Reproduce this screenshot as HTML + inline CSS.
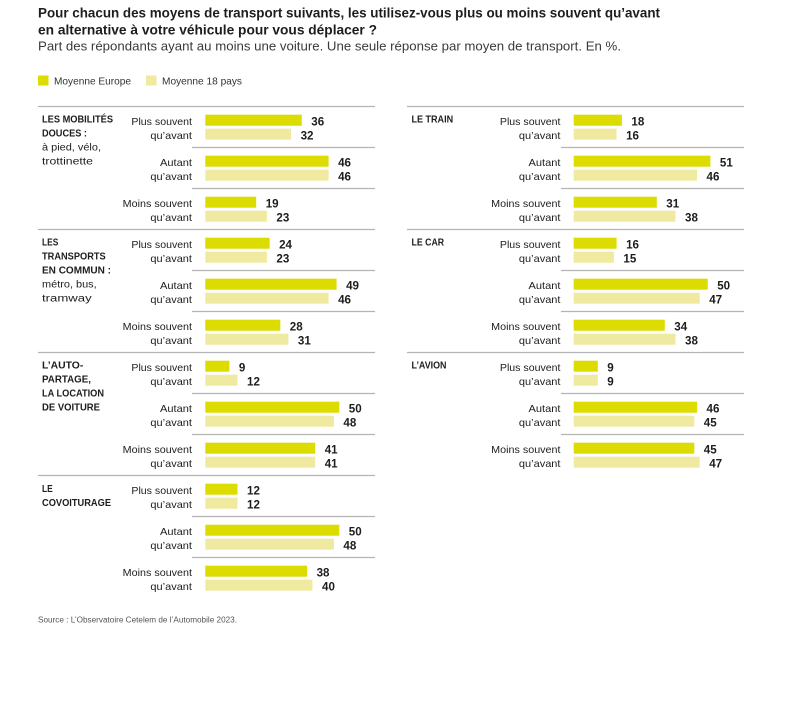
<!DOCTYPE html>
<html>
<head>
<meta charset="utf-8">
<style>
  html,body{margin:0;padding:0;background:#ffffff;}
  svg{display:block;}
  text{font-family:"Liberation Sans",sans-serif;fill:#1d1d1b;}
  .t{font-weight:bold;font-size:13.5px;}
  .st{font-size:12.5px;fill:#3a3a3a;}
  .lg{font-size:10.5px;fill:#333;}
  .gb{font-weight:bold;font-size:9.8px;}
  .gr{font-size:10px;}
  .rl{font-size:10.5px;text-anchor:end;fill:#1d1d1b;}
  .v{font-weight:bold;font-size:11.6px;}
  .src{font-size:8px;fill:#555;}
  .e{fill:#dcdc00;}
  .m{fill:#efeaa0;}
  .ln{stroke:#b3b3b3;stroke-width:1.2;}
</style>
</head>
<body>
<svg width="789" height="706" viewBox="0 0 789 706" xmlns="http://www.w3.org/2000/svg">
  <text class="t" x="38" y="17.5" textLength="622" lengthAdjust="spacingAndGlyphs">Pour chacun des moyens de transport suivants, les utilisez-vous plus ou moins souvent qu’avant</text>
  <text class="t" x="38" y="34.5" textLength="339" lengthAdjust="spacingAndGlyphs">en alternative à votre véhicule pour vous déplacer ?</text>
  <text class="st" x="38" y="50.5" textLength="583" lengthAdjust="spacingAndGlyphs">Part des répondants ayant au moins une voiture. Une seule réponse par moyen de transport. En %.</text>

  <rect class="e" x="38" y="75.5" width="10.5" height="10"/>
  <text class="lg" x="54" y="84.5" textLength="77" lengthAdjust="spacingAndGlyphs">Moyenne Europe</text>
  <rect class="m" x="146" y="75.5" width="10.5" height="10"/>
  <text class="lg" x="162" y="84.5" textLength="80" lengthAdjust="spacingAndGlyphs">Moyenne 18 pays</text>

  <g class="ln">
    <line x1="38" x2="375" y1="106.5" y2="106.5"/>
    <line x1="38" x2="375" y1="229.5" y2="229.5"/>
    <line x1="38" x2="375" y1="352.5" y2="352.5"/>
    <line x1="38" x2="375" y1="475.5" y2="475.5"/>
    <line x1="192" x2="375" y1="147.5" y2="147.5"/>
    <line x1="192" x2="375" y1="188.5" y2="188.5"/>
    <line x1="192" x2="375" y1="270.5" y2="270.5"/>
    <line x1="192" x2="375" y1="311.5" y2="311.5"/>
    <line x1="192" x2="375" y1="393.5" y2="393.5"/>
    <line x1="192" x2="375" y1="434.5" y2="434.5"/>
    <line x1="192" x2="375" y1="516.5" y2="516.5"/>
    <line x1="192" x2="375" y1="557.5" y2="557.5"/>
    <line x1="407" x2="744" y1="106.5" y2="106.5"/>
    <line x1="407" x2="744" y1="229.5" y2="229.5"/>
    <line x1="407" x2="744" y1="352.5" y2="352.5"/>
    <line x1="561" x2="744" y1="147.5" y2="147.5"/>
    <line x1="561" x2="744" y1="188.5" y2="188.5"/>
    <line x1="561" x2="744" y1="270.5" y2="270.5"/>
    <line x1="561" x2="744" y1="311.5" y2="311.5"/>
    <line x1="561" x2="744" y1="393.5" y2="393.5"/>
    <line x1="561" x2="744" y1="434.5" y2="434.5"/>
  </g>

  <text class="gb" x="42" y="122.5" textLength="71" lengthAdjust="spacingAndGlyphs">LES MOBILITÉS</text>
  <text class="gb" x="42" y="136.5" textLength="45" lengthAdjust="spacingAndGlyphs">DOUCES :</text>
  <text class="gr" x="42" y="150.5" textLength="59" lengthAdjust="spacingAndGlyphs">à pied, vélo,</text>
  <text class="gr" x="42" y="164.5" textLength="51" lengthAdjust="spacingAndGlyphs">trottinette</text>

  <text class="gb" x="42" y="245.5" textLength="16.3" lengthAdjust="spacingAndGlyphs">LES</text>
  <text class="gb" x="42" y="259.5" textLength="63.7" lengthAdjust="spacingAndGlyphs">TRANSPORTS</text>
  <text class="gb" x="42" y="273.5" textLength="69" lengthAdjust="spacingAndGlyphs">EN COMMUN :</text>
  <text class="gr" x="42" y="287.5" textLength="54.7" lengthAdjust="spacingAndGlyphs">métro, bus,</text>
  <text class="gr" x="42" y="301.5" textLength="49.7" lengthAdjust="spacingAndGlyphs">tramway</text>

  <text class="gb" x="42" y="368.5" textLength="41.3" lengthAdjust="spacingAndGlyphs">L’AUTO-</text>
  <text class="gb" x="42" y="382.5" textLength="49" lengthAdjust="spacingAndGlyphs">PARTAGE,</text>
  <text class="gb" x="42" y="396.5" textLength="62" lengthAdjust="spacingAndGlyphs">LA LOCATION</text>
  <text class="gb" x="42" y="410.5" textLength="58" lengthAdjust="spacingAndGlyphs">DE VOITURE</text>

  <text class="gb" x="42" y="492" textLength="10.7" lengthAdjust="spacingAndGlyphs">LE</text>
  <text class="gb" x="42" y="506" textLength="69" lengthAdjust="spacingAndGlyphs">COVOITURAGE</text>

  <text class="gb" x="411.5" y="122.5" textLength="41.6" lengthAdjust="spacingAndGlyphs">LE TRAIN</text>
  <text class="gb" x="411.5" y="245.5" textLength="32.6" lengthAdjust="spacingAndGlyphs">LE CAR</text>
  <text class="gb" x="411.5" y="368.5" textLength="35" lengthAdjust="spacingAndGlyphs">L’AVION</text>

  <g>
    <text class="rl" x="192" y="125" textLength="60.6" lengthAdjust="spacingAndGlyphs">Plus souvent</text>
    <text class="rl" x="192" y="139" textLength="41.6" lengthAdjust="spacingAndGlyphs">qu’avant</text>
    <text class="rl" x="192" y="166" textLength="32" lengthAdjust="spacingAndGlyphs">Autant</text>
    <text class="rl" x="192" y="180" textLength="41.6" lengthAdjust="spacingAndGlyphs">qu’avant</text>
    <text class="rl" x="192" y="207" textLength="69.3" lengthAdjust="spacingAndGlyphs">Moins souvent</text>
    <text class="rl" x="192" y="221" textLength="41.6" lengthAdjust="spacingAndGlyphs">qu’avant</text>

    <text class="rl" x="192" y="248" textLength="60.6" lengthAdjust="spacingAndGlyphs">Plus souvent</text>
    <text class="rl" x="192" y="262" textLength="41.6" lengthAdjust="spacingAndGlyphs">qu’avant</text>
    <text class="rl" x="192" y="289" textLength="32" lengthAdjust="spacingAndGlyphs">Autant</text>
    <text class="rl" x="192" y="303" textLength="41.6" lengthAdjust="spacingAndGlyphs">qu’avant</text>
    <text class="rl" x="192" y="330" textLength="69.3" lengthAdjust="spacingAndGlyphs">Moins souvent</text>
    <text class="rl" x="192" y="344" textLength="41.6" lengthAdjust="spacingAndGlyphs">qu’avant</text>

    <text class="rl" x="192" y="371" textLength="60.6" lengthAdjust="spacingAndGlyphs">Plus souvent</text>
    <text class="rl" x="192" y="385" textLength="41.6" lengthAdjust="spacingAndGlyphs">qu’avant</text>
    <text class="rl" x="192" y="412" textLength="32" lengthAdjust="spacingAndGlyphs">Autant</text>
    <text class="rl" x="192" y="426" textLength="41.6" lengthAdjust="spacingAndGlyphs">qu’avant</text>
    <text class="rl" x="192" y="453" textLength="69.3" lengthAdjust="spacingAndGlyphs">Moins souvent</text>
    <text class="rl" x="192" y="467" textLength="41.6" lengthAdjust="spacingAndGlyphs">qu’avant</text>

    <text class="rl" x="192" y="494" textLength="60.6" lengthAdjust="spacingAndGlyphs">Plus souvent</text>
    <text class="rl" x="192" y="508" textLength="41.6" lengthAdjust="spacingAndGlyphs">qu’avant</text>
    <text class="rl" x="192" y="535" textLength="32" lengthAdjust="spacingAndGlyphs">Autant</text>
    <text class="rl" x="192" y="549" textLength="41.6" lengthAdjust="spacingAndGlyphs">qu’avant</text>
    <text class="rl" x="192" y="576" textLength="69.3" lengthAdjust="spacingAndGlyphs">Moins souvent</text>
    <text class="rl" x="192" y="590" textLength="41.6" lengthAdjust="spacingAndGlyphs">qu’avant</text>
  </g>

  <g>
    <text class="rl" x="560.5" y="125" textLength="60.6" lengthAdjust="spacingAndGlyphs">Plus souvent</text>
    <text class="rl" x="560.5" y="139" textLength="41.6" lengthAdjust="spacingAndGlyphs">qu’avant</text>
    <text class="rl" x="560.5" y="166" textLength="32" lengthAdjust="spacingAndGlyphs">Autant</text>
    <text class="rl" x="560.5" y="180" textLength="41.6" lengthAdjust="spacingAndGlyphs">qu’avant</text>
    <text class="rl" x="560.5" y="207" textLength="69.3" lengthAdjust="spacingAndGlyphs">Moins souvent</text>
    <text class="rl" x="560.5" y="221" textLength="41.6" lengthAdjust="spacingAndGlyphs">qu’avant</text>

    <text class="rl" x="560.5" y="248" textLength="60.6" lengthAdjust="spacingAndGlyphs">Plus souvent</text>
    <text class="rl" x="560.5" y="262" textLength="41.6" lengthAdjust="spacingAndGlyphs">qu’avant</text>
    <text class="rl" x="560.5" y="289" textLength="32" lengthAdjust="spacingAndGlyphs">Autant</text>
    <text class="rl" x="560.5" y="303" textLength="41.6" lengthAdjust="spacingAndGlyphs">qu’avant</text>
    <text class="rl" x="560.5" y="330" textLength="69.3" lengthAdjust="spacingAndGlyphs">Moins souvent</text>
    <text class="rl" x="560.5" y="344" textLength="41.6" lengthAdjust="spacingAndGlyphs">qu’avant</text>

    <text class="rl" x="560.5" y="371" textLength="60.6" lengthAdjust="spacingAndGlyphs">Plus souvent</text>
    <text class="rl" x="560.5" y="385" textLength="41.6" lengthAdjust="spacingAndGlyphs">qu’avant</text>
    <text class="rl" x="560.5" y="412" textLength="32" lengthAdjust="spacingAndGlyphs">Autant</text>
    <text class="rl" x="560.5" y="426" textLength="41.6" lengthAdjust="spacingAndGlyphs">qu’avant</text>
    <text class="rl" x="560.5" y="453" textLength="69.3" lengthAdjust="spacingAndGlyphs">Moins souvent</text>
    <text class="rl" x="560.5" y="467" textLength="41.6" lengthAdjust="spacingAndGlyphs">qu’avant</text>
  </g>

  <rect class="e" x="205.3" y="114.7" width="96.5" height="11"/>
  <rect class="m" x="205.3" y="128.7" width="85.8" height="11"/>
  <rect class="e" x="205.3" y="155.7" width="123.3" height="11"/>
  <rect class="m" x="205.3" y="169.7" width="123.3" height="11"/>
  <rect class="e" x="205.3" y="196.7" width="50.9" height="11"/>
  <rect class="m" x="205.3" y="210.7" width="61.6" height="11"/>

  <rect class="e" x="205.3" y="237.7" width="64.3" height="11"/>
  <rect class="m" x="205.3" y="251.7" width="61.6" height="11"/>
  <rect class="e" x="205.3" y="278.7" width="131.3" height="11"/>
  <rect class="m" x="205.3" y="292.7" width="123.3" height="11"/>
  <rect class="e" x="205.3" y="319.7" width="75.0" height="11"/>
  <rect class="m" x="205.3" y="333.7" width="83.1" height="11"/>

  <rect class="e" x="205.3" y="360.7" width="24.1" height="11"/>
  <rect class="m" x="205.3" y="374.7" width="32.2" height="11"/>
  <rect class="e" x="205.3" y="401.7" width="134" height="11"/>
  <rect class="m" x="205.3" y="415.7" width="128.6" height="11"/>
  <rect class="e" x="205.3" y="442.7" width="109.9" height="11"/>
  <rect class="m" x="205.3" y="456.7" width="109.9" height="11"/>

  <rect class="e" x="205.3" y="483.7" width="32.2" height="11"/>
  <rect class="m" x="205.3" y="497.7" width="32.2" height="11"/>
  <rect class="e" x="205.3" y="524.7" width="134" height="11"/>
  <rect class="m" x="205.3" y="538.7" width="128.6" height="11"/>
  <rect class="e" x="205.3" y="565.7" width="101.8" height="11"/>
  <rect class="m" x="205.3" y="579.7" width="107.2" height="11"/>

  <rect class="e" x="573.7" y="114.7" width="48.2" height="11"/>
  <rect class="m" x="573.7" y="128.7" width="42.9" height="11"/>
  <rect class="e" x="573.7" y="155.7" width="136.7" height="11"/>
  <rect class="m" x="573.7" y="169.7" width="123.3" height="11"/>
  <rect class="e" x="573.7" y="196.7" width="83.1" height="11"/>
  <rect class="m" x="573.7" y="210.7" width="101.8" height="11"/>

  <rect class="e" x="573.7" y="237.7" width="42.9" height="11"/>
  <rect class="m" x="573.7" y="251.7" width="40.2" height="11"/>
  <rect class="e" x="573.7" y="278.7" width="134" height="11"/>
  <rect class="m" x="573.7" y="292.7" width="126" height="11"/>
  <rect class="e" x="573.7" y="319.7" width="91.1" height="11"/>
  <rect class="m" x="573.7" y="333.7" width="101.8" height="11"/>

  <rect class="e" x="573.7" y="360.7" width="24.1" height="11"/>
  <rect class="m" x="573.7" y="374.7" width="24.1" height="11"/>
  <rect class="e" x="573.7" y="401.7" width="123.3" height="11"/>
  <rect class="m" x="573.7" y="415.7" width="120.6" height="11"/>
  <rect class="e" x="573.7" y="442.7" width="120.6" height="11"/>
  <rect class="m" x="573.7" y="456.7" width="126" height="11"/>

  <text class="v" x="311.3" y="125.7">36</text>
  <text class="v" x="300.6" y="139.3">32</text>
  <text class="v" x="338.1" y="166.7">46</text>
  <text class="v" x="338.1" y="180.3">46</text>
  <text class="v" x="265.7" y="207.7">19</text>
  <text class="v" x="276.4" y="221.3">23</text>

  <text class="v" x="279.1" y="248.7">24</text>
  <text class="v" x="276.4" y="262.3">23</text>
  <text class="v" x="346.1" y="289.7">49</text>
  <text class="v" x="338.1" y="303.3">46</text>
  <text class="v" x="289.8" y="330.7">28</text>
  <text class="v" x="297.9" y="344.3">31</text>

  <text class="v" x="238.9" y="371.7">9</text>
  <text class="v" x="247" y="385.3">12</text>
  <text class="v" x="348.8" y="412.7">50</text>
  <text class="v" x="343.4" y="426.3">48</text>
  <text class="v" x="324.7" y="453.7">41</text>
  <text class="v" x="324.7" y="467.3">41</text>

  <text class="v" x="247" y="494.7">12</text>
  <text class="v" x="247" y="508.3">12</text>
  <text class="v" x="348.8" y="535.7">50</text>
  <text class="v" x="343.4" y="549.3">48</text>
  <text class="v" x="316.6" y="576.7">38</text>
  <text class="v" x="322" y="590.3">40</text>

  <text class="v" x="631.4" y="125.7">18</text>
  <text class="v" x="626.1" y="139.3">16</text>
  <text class="v" x="719.9" y="166.7">51</text>
  <text class="v" x="706.5" y="180.3">46</text>
  <text class="v" x="666.3" y="207.7">31</text>
  <text class="v" x="685" y="221.3">38</text>

  <text class="v" x="626.1" y="248.7">16</text>
  <text class="v" x="623.4" y="262.3">15</text>
  <text class="v" x="717.2" y="289.7">50</text>
  <text class="v" x="709.2" y="303.3">47</text>
  <text class="v" x="674.3" y="330.7">34</text>
  <text class="v" x="685" y="344.3">38</text>

  <text class="v" x="607.3" y="371.7">9</text>
  <text class="v" x="607.3" y="385.3">9</text>
  <text class="v" x="706.5" y="412.7">46</text>
  <text class="v" x="703.8" y="426.3">45</text>
  <text class="v" x="703.8" y="453.7">45</text>
  <text class="v" x="709.2" y="467.3">47</text>

  <text class="src" x="38" y="622.5" textLength="199" lengthAdjust="spacingAndGlyphs">Source : L’Observatoire Cetelem de l’Automobile 2023.</text>
</svg>
</body>
</html>
